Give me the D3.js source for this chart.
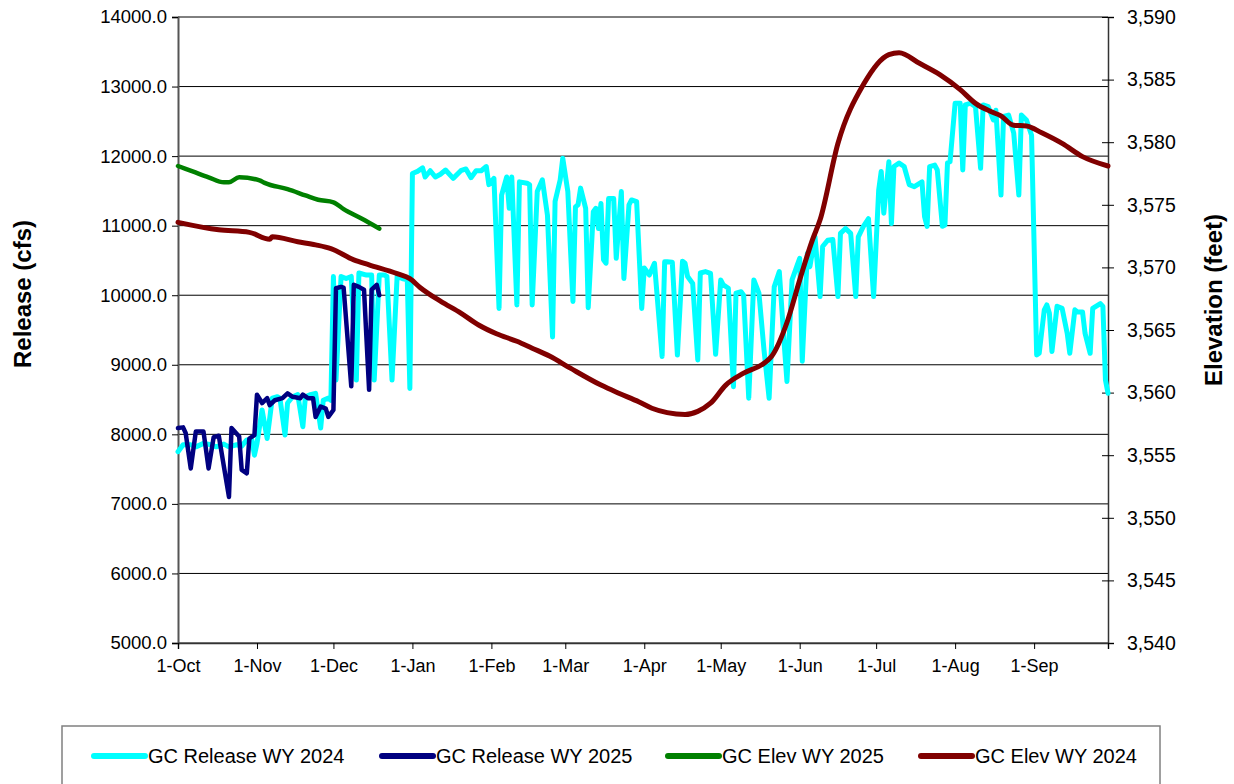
<!DOCTYPE html>
<html>
<head>
<meta charset="utf-8">
<script src="https://cdn.jsdelivr.net/npm/d3@7"></script>
<style>
  html, body { margin: 0; padding: 0; background: #fff; }
  svg { display: block; font-family: "Liberation Sans", Arial, sans-serif; }
</style>
</head>
<body>
<svg id="chart" width="1234" height="784"></svg>
<script>
// ---------- DATA (x = day of water year, 0 = 1-Oct) ----------
const monthDays   = [0, 31, 61, 92, 123, 152, 183, 213, 244, 274, 305, 336];
const monthLabels = ["1-Oct","1-Nov","1-Dec","1-Jan","1-Feb","1-Mar","1-Apr","1-May","1-Jun","1-Jul","1-Aug","1-Sep"];
const leftTicks  = [5000,6000,7000,8000,9000,10000,11000,12000,13000,14000];
const rightTicks = [3540,3545,3550,3555,3560,3565,3570,3575,3580,3585,3590];

const relWY24Day = [0,2,5,7,10,13,15,18,20,23,25,27,29,30,31,33,35,37,39,40,42,43,45,47,49,50,52,54,56,57,59,60,
  61,62,64,66,68,70,71,74,76,77,79,81,82,84,86,88,90,91,
  92,94,96,97,99,101,103,105,108,111,113,115,117,119,121,122,124,126,127,129,130,131,133,134,137,138,139,
  141,143,145,147,148,150,151,153,155,156,157,158,160,161,163,164,165,166,167,168,169,171,172,174,175,177,178,180,
  182,183,185,187,190,191,192,194,196,198,199,200,202,204,205,207,209,211,213,214,216,218,219,221,222,224,226,228,
  230,232,234,236,238,239,241,243,244,245,247,248,250,252,253,255,257,259,260,262,264,266,267,269,271,273,
  275,276,277,279,280,281,283,285,287,289,292,293,294,295,297,298,300,301,302,303,
  305,307,308,309,311,313,315,316,318,320,321,323,324,326,328,330,331,333,335,
  337,338,340,341,342,343,345,347,349,350,352,353,355,356,358,359,362,363,364,365];
const relWY24Cfs = [7750,7850,7850,7820,7870,7850,7820,7860,7820,7850,7830,7920,7920,7700,7870,8350,7940,8520,8540,8520,7990,8450,8540,8570,8110,8540,8570,8590,8090,8490,8520,8490,
  10270,8780,10270,10240,10270,8780,10320,10290,10290,8780,10290,10290,10270,8780,10270,10240,10220,8660,
  11750,11780,11830,11700,11790,11700,11740,11800,11680,11790,11815,11690,11790,11790,11850,11590,11680,9810,11440,11700,11250,11700,9860,11630,11610,11590,9860,
  11490,11660,11150,9400,11350,11660,11970,11490,9910,11270,11300,11540,11250,9820,11200,11250,10960,11320,10510,10460,11390,11390,10530,11490,10240,11300,11370,11345,
  9810,10390,10290,10460,9120,10480,10480,10475,9140,10490,10460,10270,10170,9070,10320,10340,10315,9150,10220,10150,10100,8685,10030,10050,10000,8520,10220,10030,
  9210,8520,10120,10340,9260,8760,10220,10430,10530,9050,10600,10410,10840,9980,10700,10790,10800,9980,10890,10960,10890,9980,10840,10990,11100,9980,
  11510,11780,11180,11920,11030,11850,11900,11850,11590,11560,11630,11130,10990,11850,11870,11800,10990,11010,11900,11920,
  12760,12760,11800,12735,12760,12710,11825,12735,12710,12520,12660,11440,12570,12590,12330,11440,12590,12520,12300,
  9140,9165,9790,9860,9740,9190,9840,9810,9450,9165,9790,9760,9760,9450,9165,9810,9880,9840,8780,8590];

const relWY25Day = [0,2,3,5,7,10,12,14,16,18,20,21,24,25,27,28,30,31,33,35,36,38,41,43,45,48,49,51,53,54,56,58,59,61,
  62,64,65,68,69,71,73,75,76,78,79];
const relWY25Cfs = [8090,8100,8020,7510,8040,8040,7510,7960,7980,7540,7100,8090,7970,7490,7440,7940,7990,8570,8450,8520,8420,8490,8520,8590,8540,8520,8570,8520,8520,8250,8400,8370,8250,8350,
  10100,10120,10110,8690,10150,10120,10080,8640,10080,10150,10000];

const elevWY25Day = [0,6,12,18,20,24,32,34,43,50,55,61,65,72,79];
const elevWY25Ft  = [3578.1,3577.65,3577.2,3576.8,3576.8,3577.2,3576.95,3576.75,3576.25,3575.75,3575.4,3575.2,3574.65,3573.9,3573.1];

const elevWY24Day = [0,16,28,36,37,47,54,60,69,75,86,91,95,103,111,118,125,133,139,146,154,166,173,181,186,192,199,204,209,215,222,230,233,239,244,249,252,259,269,279,283,291,299,307,313,319,323,328,333,339,347,355,365];
const elevWY24Ft  = [3573.6,3573.0,3572.8,3572.25,3572.45,3572.05,3571.8,3571.5,3570.6,3570.2,3569.5,3569.1,3568.4,3567.3,3566.35,3565.4,3564.7,3564.1,3563.55,3562.9,3561.95,3560.6,3559.95,3559.25,3558.75,3558.4,3558.25,3558.5,3559.15,3560.6,3561.55,3562.35,3562.9,3565.6,3569.0,3572.2,3573.8,3579.9,3584.6,3587.0,3587.15,3586.3,3585.4,3584.2,3583.1,3582.45,3582.1,3581.35,3581.3,3580.75,3579.9,3578.85,3578.1];

const seriesNames  = ["GC Release WY 2024","GC Release WY 2025","GC Elev WY 2025","GC Elev WY 2024"];
const seriesColors = ["#00FFFF","#000080","#008000","#800000"];

// ---------- LAYOUT ----------
const svg = d3.select("#chart");
const L = 178, R = 1108, T = 17, B = 643;

const x  = d3.scaleLinear().domain([0, 365]).range([L, R]);
const yL = d3.scaleLinear().domain([5000, 14000]).range([B, T]);
const yR = d3.scaleLinear().domain([3540, 3590]).range([B, T]);

// gridlines
svg.append("g").selectAll("line").data(leftTicks).join("line")
  .attr("x1", L).attr("x2", R)
  .attr("y1", d => yL(d)).attr("y2", d => yL(d))
  .attr("stroke", "#000").attr("stroke-width", 1);

// left axis
const gL = svg.append("g").attr("transform", `translate(${L},0)`)
  .call(d3.axisLeft(yL).tickValues(leftTicks).tickFormat(d3.format(".1f")).tickSizeOuter(0).tickSize(6));
gL.select(".domain").attr("stroke", "#555").attr("stroke-width", 2);
gL.selectAll(".tick line").attr("stroke", "#000");
gL.selectAll(".tick text").attr("font-size", 18.5).attr("font-family", "Liberation Sans, Arial, sans-serif").attr("fill", "#000").attr("x", -11);

// right axis (cross ticks)
const gR = svg.append("g").attr("transform", `translate(${R},0)`)
  .call(d3.axisRight(yR).tickValues(rightTicks).tickFormat(d3.format(",.0f")).tickSizeOuter(0).tickSize(6));
gR.select(".domain").attr("stroke", "#333").attr("stroke-width", 1.5);
gR.selectAll(".tick line").attr("stroke", "#000").attr("x1", -6).attr("x2", 6);
gR.selectAll(".tick text").attr("font-size", 19.5).attr("font-family", "Liberation Sans, Arial, sans-serif").attr("fill", "#000").attr("x", 19);

// bottom axis
const gB = svg.append("g").attr("transform", `translate(0,${B})`)
  .call(d3.axisBottom(x).tickValues(monthDays.concat([365])).tickFormat((d, i) => i < monthLabels.length ? monthLabels[i] : "").tickSizeOuter(0).tickSize(6));
gB.select(".domain").attr("stroke", "#333").attr("stroke-width", 1.5);
gB.selectAll(".tick line").attr("stroke", "#000");
gB.selectAll(".tick text").attr("font-size", 18).attr("font-family", "Liberation Sans, Arial, sans-serif").attr("fill", "#000").attr("y", 16);

// axis titles
svg.append("text").attr("transform", `translate(31,294) rotate(-90)`)
  .attr("text-anchor", "middle").attr("font-size", 24).attr("font-weight", "bold").text("Release (cfs)");
svg.append("text").attr("transform", `translate(1222,300) rotate(-90)`)
  .attr("text-anchor", "middle").attr("font-size", 24).attr("font-weight", "bold").text("Elevation (feet)");

// series
const linear = d3.line().x(d => x(d[0])).y(d => d[1]);
const smooth = d3.line().x(d => x(d[0])).y(d => d[1]).curve(d3.curveMonotoneX);
const mk = (days, vals, sc) => days.map((d, i) => [d, sc(vals[i])]);

const series = [
  { pts: mk(relWY24Day, relWY24Cfs, yL), gen: linear, w: 5 },
  { pts: mk(relWY25Day, relWY25Cfs, yL), gen: linear, w: 4.5 },
  { pts: mk(elevWY25Day, elevWY25Ft, yR), gen: smooth, w: 4.5 },
  { pts: mk(elevWY24Day, elevWY24Ft, yR), gen: smooth, w: 5 }
];
series.forEach((s, i) => {
  svg.append("path").attr("d", s.gen(s.pts)).attr("fill", "none")
    .attr("stroke", seriesColors[i]).attr("stroke-width", s.w)
    .attr("stroke-linejoin", "round").attr("stroke-linecap", "round");
});

// legend
svg.append("rect").attr("x", 62).attr("y", 726).attr("width", 1098).attr("height", 80)
  .attr("fill", "#fff").attr("stroke", "#808080").attr("stroke-width", 1.5);
const legX = [94, 382, 668, 921];
const lg = svg.append("g").selectAll("g").data(seriesNames).join("g")
  .attr("transform", (d, i) => `translate(${legX[i]},756)`);
lg.append("line").attr("x1", 0).attr("x2", 51).attr("y1", 0).attr("y2", 0)
  .attr("stroke", (d, i) => seriesColors[i]).attr("stroke-width", 6).attr("stroke-linecap", "round");
lg.append("text").attr("x", 54).attr("y", 7).attr("font-size", 20).text(d => d);
</script>
</body>
</html>
